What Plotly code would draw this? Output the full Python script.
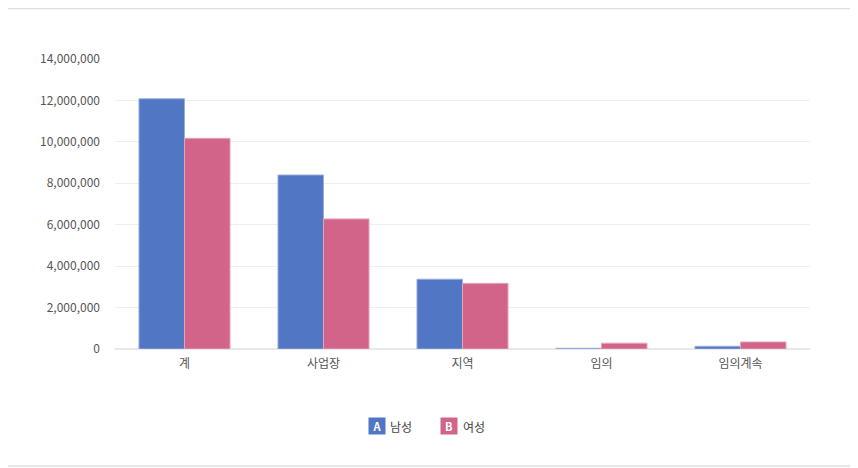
import plotly.graph_objects as go

categories = ["계", "사업장", "지역", "임의", "임의계속"]
male = [12080000, 8400000, 3370000, 35000, 130000]
female = [10170000, 6280000, 3170000, 280000, 340000]

blue = "#5076c4"
pink = "#d2648a"

fig = go.Figure()
fig.add_bar(x=categories, y=male, name="남성", marker_color=blue,
            marker_line=dict(color="#9aaedd", width=1))
fig.add_bar(x=categories, y=female, name="여성", marker_color=pink,
            marker_line=dict(color="#e7a3bc", width=1))

# page has an 8px body margin, so work in page pixels and shift
o = 8
W, H = 858 - o, 468 - o
L, T = 115 - o, 59 - o
R = W - (810 - o)
B = H - (349 - o)
pw, ph = W - L - R, H - T - B


def px(x):
    return (x - o - L) / pw


def py(y):
    return (H - B - (y - o)) / ph


legend_y = py(426)
fig.update_layout(
    width=W, height=H,
    margin=dict(l=L, r=R, t=T, b=B),
    paper_bgcolor="white", plot_bgcolor="white",
    barmode="group", bargap=0.345, bargroupgap=0,
    showlegend=False,
    font=dict(family="Noto Sans CJK KR, Noto Sans, sans-serif", size=12, color="#555"),
    shapes=[dict(type="rect", xref="paper", yref="paper",
                 x0=px(-1), x1=px(851), y0=py(466), y1=py(8.5),
                 line=dict(color="#dedede", width=1.5))],
    annotations=[
        dict(xref="paper", yref="paper", x=px(377), y=legend_y, xanchor="center", yanchor="middle",
             text="<b>A</b>", showarrow=False, bgcolor=blue, font=dict(color="white", size=11),
             borderpad=1, width=14, height=14),
        dict(xref="paper", yref="paper", x=px(401), y=legend_y, xanchor="center", yanchor="middle",
             text="남성", showarrow=False, font=dict(color="#444", size=12)),
        dict(xref="paper", yref="paper", x=px(449), y=legend_y, xanchor="center", yanchor="middle",
             text="<b>B</b>", showarrow=False, bgcolor=pink, font=dict(color="white", size=11),
             borderpad=1, width=14, height=14),
        dict(xref="paper", yref="paper", x=px(474), y=legend_y, xanchor="center", yanchor="middle",
             text="여성", showarrow=False, font=dict(color="#444", size=12)),
    ],
)
fig.update_yaxes(range=[0, 14000000], dtick=2000000, tickformat=",d",
                 gridcolor="#efefef", zeroline=True, zerolinecolor="#e8e8e8",
                 ticks="", ticklabelstandoff=14, showline=False)
fig.update_xaxes(showline=False, ticks="", ticklabelstandoff=6)

fig.write_html("out.html")
